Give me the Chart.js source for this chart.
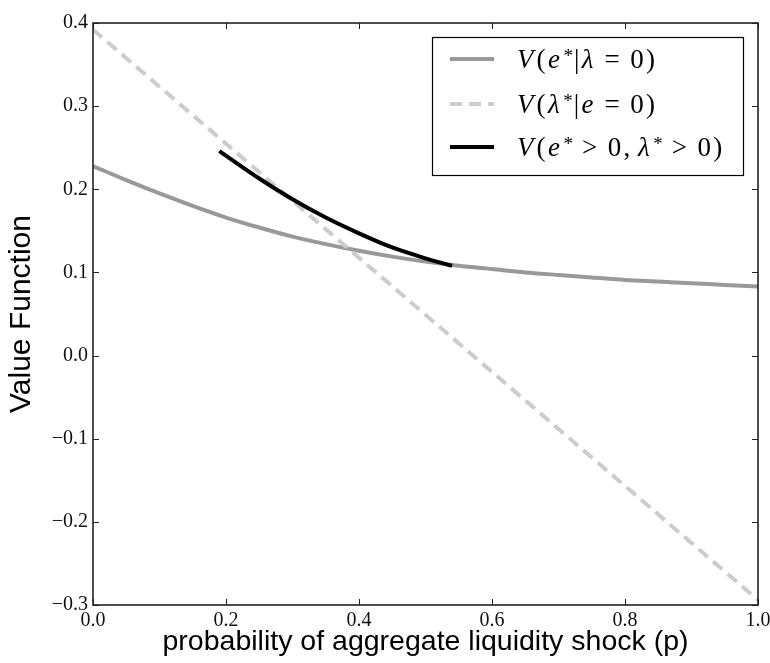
<!DOCTYPE html>
<html>
<head>
<meta charset="utf-8">
<script src="https://cdn.jsdelivr.net/npm/chart.js@4.4.1/dist/chart.umd.min.js"></script>
<style>
  html, body { margin: 0; padding: 0; background: #ffffff; }
  #wrap { width: 770px; height: 663px; position: relative; }
</style>
</head>
<body>
<div id="wrap"><canvas id="c" width="770" height="663"></canvas></div>
<script>
// ---- data ----
const seriesLabels = ['V(e*|λ = 0)', 'V(λ*|e = 0)', 'V(e* > 0, λ* > 0)'];

const pGray = [0, 0.05, 0.1, 0.15, 0.2, 0.25, 0.3, 0.35, 0.4, 0.45, 0.5, 0.55, 0.6, 0.65, 0.7, 0.75, 0.8, 0.85, 0.9, 0.95, 1.0];
const vGray = [0.228, 0.211, 0.195, 0.180, 0.166, 0.154, 0.143, 0.134, 0.126, 0.119, 0.113, 0.108, 0.104, 0.100, 0.097, 0.094, 0.091, 0.089, 0.087, 0.085, 0.083];

const pDash = [0, 1];
const vDash = [0.392, -0.294];

const pBlack = [0.19, 0.25, 0.3, 0.35, 0.4, 0.45, 0.5, 0.54];
const vBlack = [0.246, 0.213, 0.188, 0.166, 0.147, 0.130, 0.117, 0.108];

const xTicks = [0, 0.2, 0.4, 0.6, 0.8, 1.0];
const yTicks = [-0.3, -0.2, -0.1, 0, 0.1, 0.2, 0.3, 0.4];

const xTitle = 'probability of aggregate liquidity shock (p)';
const yTitle = 'Value Function';

function pts(xs, ys) { return xs.map((x, i) => ({ x: x, y: ys[i] })); }
function fmt(v) {
  const s = Math.abs(v).toFixed(1);
  return (v < -1e-9 ? '\u2212' : '') + s;
}

const colors = ['#999999', '#cccccc', '#000000'];
const dashes = [[], [12, 7], []];

// frame + inward ticks on all four sides
const framePlugin = {
  id: 'frame',
  afterDatasetsDraw(chart) {
    const { ctx, chartArea: a, scales } = chart;
    ctx.save();
    ctx.strokeStyle = '#222';
    ctx.lineWidth = 1;
    const tl = 6;
    ctx.beginPath();
    xTicks.forEach(v => {
      const x = Math.round(scales.x.getPixelForValue(v)) + 0.5;
      ctx.moveTo(x, a.bottom); ctx.lineTo(x, a.bottom - tl);
      ctx.moveTo(x, a.top); ctx.lineTo(x, a.top + tl);
    });
    yTicks.forEach(v => {
      const y = Math.round(scales.y.getPixelForValue(v)) + 0.5;
      ctx.moveTo(a.left, y); ctx.lineTo(a.left + tl, y);
      ctx.moveTo(a.right, y); ctx.lineTo(a.right - tl, y);
    });
    ctx.stroke();
    ctx.lineWidth = 1.6;
    ctx.strokeRect(a.left, a.top, a.right - a.left, a.bottom - a.top);
    ctx.restore();
  }
};

// legend with math-like text
function drawMath(ctx, text, x, y, size) {
  const fam = '"Liberation Serif", "DejaVu Serif", serif';
  const extra = 2.3;
  let cx = x;
  for (let i = 0; i < text.length; i++) {
    const ch = text[i];
    if (ch === ' ') continue;
    if (ch === '*') {
      ctx.font = Math.round(size * 0.72) + 'px ' + fam;
      ctx.fillText('*', cx + 0.5, y - size * 0.22);
      cx += ctx.measureText('*').width + 1.5;
      continue;
    }
    const italic = /[A-Za-zλ]/.test(ch);
    ctx.font = (italic ? 'italic ' : '') + size + 'px ' + fam;
    let pre = 0, post = 0;
    if (ch === '=' || ch === '>') { pre = size * 0.3; post = size * 0.3; }
    if (ch === ',') { post = size * 0.2; }
    cx += pre;
    ctx.fillText(ch, cx, y);
    cx += ctx.measureText(ch).width + post + extra + (italic ? size * 0.03 : 0);
  }
}

const legendPlugin = {
  id: 'mathLegend',
  afterDraw(chart) {
    const { ctx } = chart;
    const bx = 432, by = 37, bw = 311, bh = 138;
    ctx.save();
    ctx.fillStyle = '#fff';
    ctx.fillRect(bx, by, bw, bh);
    ctx.strokeStyle = '#000';
    ctx.lineWidth = 1.2;
    ctx.strokeRect(bx + 0.5, by + 0.5, bw, bh);
    const rows = [59, 104, 147];
    chart.data.datasets.forEach((ds, i) => {
      ctx.beginPath();
      ctx.strokeStyle = ds.borderColor;
      ctx.lineWidth = ds.borderWidth;
      ctx.setLineDash(ds.borderDash || []);
      ctx.moveTo(450, rows[i]);
      ctx.lineTo(494, rows[i]);
      ctx.stroke();
      ctx.setLineDash([]);
      ctx.fillStyle = '#000';
      ctx.textBaseline = 'alphabetic';
      ctx.textAlign = 'left';
      drawMath(ctx, ds.label, 517, rows[i] + 9, 27);
    });
    ctx.restore();
  }
};

const datasets = [
  { label: seriesLabels[0], data: pts(pGray, vGray), borderColor: colors[0], borderWidth: 4, borderDash: dashes[0], order: 3 },
  { label: seriesLabels[1], data: pts(pDash, vDash), borderColor: colors[1], borderWidth: 4, borderDash: dashes[1], order: 2 },
  { label: seriesLabels[2], data: pts(pBlack, vBlack), borderColor: colors[2], borderWidth: 4, borderDash: dashes[2], order: 1 }
].map(d => Object.assign(d, { pointRadius: 0, fill: false, cubicInterpolationMode: 'monotone', borderCapStyle: 'butt' }));

function noPad(s) { s.paddingLeft = 0; s.paddingRight = 0; s.paddingTop = 0; s.paddingBottom = 0; }

new Chart(document.getElementById('c'), {
  type: 'line',
  data: { datasets: datasets },
  options: {
    responsive: false,
    animation: false,
    layout: { padding: { left: 0, right: 12, top: 23, bottom: 0 } },
    plugins: { legend: { display: false }, tooltip: { enabled: false } },
    scales: {
      x: {
        type: 'linear', min: 0, max: 1,
        afterBuildTicks(s) { s.ticks = xTicks.map(v => ({ value: v })); },
        afterFit(s) { s.height = 58; noPad(s); },
        grid: { display: false, drawTicks: false },
        border: { display: false },
        ticks: {
          callback: v => fmt(v), padding: 4, color: '#111',
          font: { family: '"Liberation Serif", serif', size: 20 }, maxRotation: 0
        },
        title: {
          display: true, text: xTitle, color: '#000',
          font: { family: '"Liberation Sans", Arial, sans-serif', size: 28.5 },
          padding: { top: 0, bottom: 4 }
        }
      },
      y: {
        type: 'linear', min: -0.3, max: 0.4,
        afterBuildTicks(s) { s.ticks = yTicks.map(v => ({ value: v })); },
        afterFit(s) { s.width = 93; noPad(s); },
        grid: { display: false, drawTicks: false },
        border: { display: false },
        ticks: {
          callback: v => fmt(v), padding: 5, color: '#111',
          font: { family: '"Liberation Serif", serif', size: 20 }
        },
        title: {
          display: true, text: yTitle, color: '#000',
          font: { family: '"Liberation Sans", Arial, sans-serif', size: 30 },
          padding: { top: 4, bottom: 0 }
        }
      }
    }
  },
  plugins: [framePlugin, legendPlugin]
});
</script>
</body>
</html>
